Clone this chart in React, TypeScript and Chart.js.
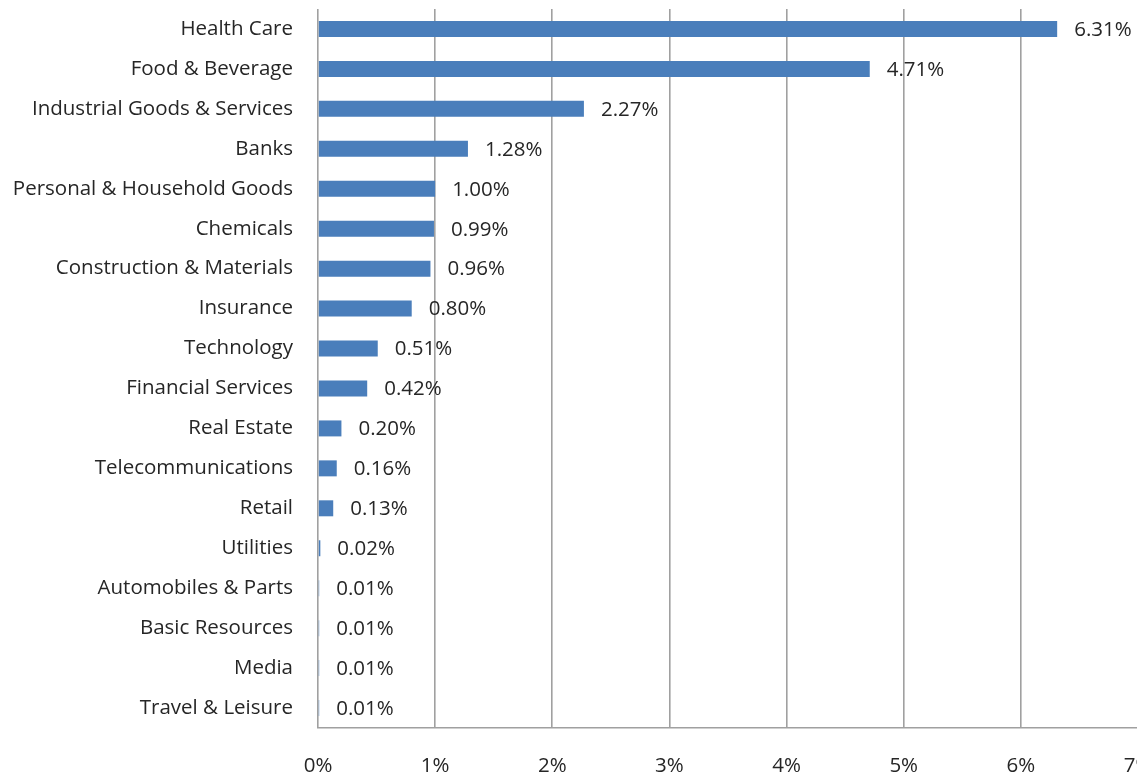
import React, { useEffect, useRef } from "react";
import { Chart, registerables } from "chart.js";

Chart.register(...registerables);

const categories = [
  "Health Care",
  "Food & Beverage",
  "Industrial Goods & Services",
  "Banks",
  "Personal & Household Goods",
  "Chemicals",
  "Construction & Materials",
  "Insurance",
  "Technology",
  "Financial Services",
  "Real Estate",
  "Telecommunications",
  "Retail",
  "Utilities",
  "Automobiles & Parts",
  "Basic Resources",
  "Media",
  "Travel & Leisure",
];

const values = [
  6.31, 4.71, 2.27, 1.28, 1.0, 0.99, 0.96, 0.8, 0.51, 0.42, 0.2, 0.16, 0.13,
  0.02, 0.01, 0.01, 0.01, 0.01,
];

const xTicks = [0, 1, 2, 3, 4, 5, 6, 7];

const FONT = "'Open Sans', 'Noto Sans', sans-serif";
const TEXT = "#262626";
const SIZE = 20.5;

const labelPlugin = {
  id: "barValueLabels",
  afterDatasetsDraw(chart: any) {
    const ctx = chart.ctx;
    const meta = chart.getDatasetMeta(0);
    ctx.save();
    ctx.font = `${SIZE}px ${FONT}`;
    ctx.fillStyle = TEXT;
    ctx.textAlign = "left";
    ctx.textBaseline = "middle";
    meta.data.forEach((bar: any, i: number) => {
      const v = values[i];
      ctx.fillText(v.toFixed(2) + "%", bar.x + 17, bar.y + 1);
    });
    ctx.restore();
  },
};

export default function App() {
  const ref = useRef<HTMLCanvasElement | null>(null);

  useEffect(() => {
    document.body.style.margin = "0";
    const chart = new Chart(ref.current!, {
      type: "bar",
      data: {
        labels: categories,
        datasets: [
          {
            data: values,
            backgroundColor: "#4a7ebb",
            borderWidth: 0,
            categoryPercentage: 1,
            barPercentage: 0.4,
          },
        ],
      },
      options: {
        indexAxis: "y",
        animation: false,
        responsive: false,
        maintainAspectRatio: false,
        layout: { padding: { top: 9, right: 62, left: 0, bottom: 0 } },
        plugins: {
          legend: { display: false },
          tooltip: { enabled: false },
        },
        scales: {
          x: {
            min: 0,
            max: 7,
            afterBuildTicks(scale: any) {
              scale.ticks = xTicks.map((v) => ({ value: v }));
            },
            afterFit(scale: any) {
              scale.height = 46;
              scale.paddingLeft = 0;
              scale.paddingRight = 0;
            },
            ticks: {
              callback: (v: any) => v + "%",
              font: { family: FONT, size: SIZE },
              color: TEXT,
              padding: 26,
              maxRotation: 0,
            },
            grid: {
              color: "#a0a0a0",
              lineWidth: 1.6,
              drawTicks: false,
            },
            border: { display: true, color: "#a0a0a0", width: 1.6 },
          },
          y: {
            afterFit(scale: any) {
              scale.width = 318;
              scale.paddingTop = 0;
              scale.paddingBottom = 0;
            },
            ticks: {
              font: { family: FONT, size: SIZE },
              color: TEXT,
              padding: 25,
            },
            grid: { display: false, drawTicks: false },
            border: { display: false },
          },
        },
      },
      plugins: [labelPlugin],
    });
    return () => chart.destroy();
  }, []);

  return (
    <div
      style={{
        position: "absolute",
        left: 0,
        top: 0,
        width: 1137,
        height: 774,
        overflow: "hidden",
        background: "#fff",
      }}
    >
      <canvas ref={ref} width={1200} height={774} style={{ width: 1200, height: 774 }} />
    </div>
  );
}
